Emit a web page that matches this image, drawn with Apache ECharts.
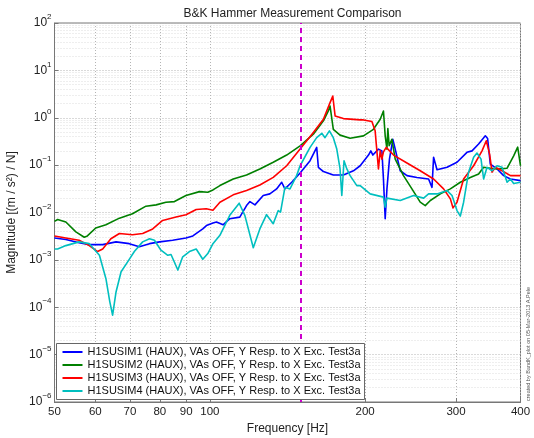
<!DOCTYPE html>
<html>
<head>
<meta charset="utf-8">
<title>B&amp;K Hammer Measurement Comparison</title>
<script src="https://cdn.jsdelivr.net/npm/echarts@6/dist/echarts.min.js"></script>
<style>
  html, body { margin: 0; padding: 0; background: #fff; }
  #chart { width: 534px; height: 438px; }
</style>
</head>
<body>
<div id="chart"></div>
<script>
// legend names and colours (matlab default order)
const seriesNames = [
  'H1SUSIM1 (HAUX), VAs OFF, Y Resp. to X Exc. Test3a',
  'H1SUSIM2 (HAUX), VAs OFF, Y Resp. to X Exc. Test3a',
  'H1SUSIM3 (HAUX), VAs OFF, Y Resp. to X Exc. Test3a',
  'H1SUSIM4 (HAUX), VAs OFF, Y Resp. to X Exc. Test3a'
]
const seriesColors = ['#0000ff', '#008000', '#ff0000', '#00bfbf']

const xTicks = [50, 60, 70, 80, 90, 100, 200, 300, 400]
const yTicks = [1e-6, 1e-5, 1e-4, 1e-3, 1e-2, 1e-1, 1, 10, 100]
const markFreq = 150

// [frequency Hz, magnitude (m/s^2)/N]
const im1 = [
  [50, 0.0029], [52.6, 0.0027], [55.8, 0.0023], [58.4, 0.0021], [62.0, 0.0021], [65.8, 0.0024],
  [69.8, 0.0022], [73.0, 0.0019], [76.4, 0.0022], [79.9, 0.0024], [84.7, 0.0026], [89.9, 0.0029],
  [92.7, 0.0032], [96.9, 0.0045], [98.5, 0.0053], [101.4, 0.0060], [103.0, 0.0063], [106.1, 0.0055],
  [109.3, 0.0074], [114.3, 0.0080], [117.8, 0.0140], [119.6, 0.0170], [122.3, 0.0145], [126.9, 0.0228],
  [130.7, 0.0247], [134.7, 0.0315], [137.8, 0.0435], [139.8, 0.0315], [144.1, 0.0435], [149.6, 0.068],
  [156.4, 0.124], [161.1, 0.237], [162.3, 0.090], [166.0, 0.073], [173.5, 0.062], [181.5, 0.062],
  [189.8, 0.076], [195.6, 0.097], [203.0, 0.163], [205.1, 0.20], [207.0, 0.163], [212.2, 0.218],
  [215.5, 0.20], [217.0, 0.051], [218.7, 0.0074], [220.4, 0.0315], [222.9, 0.134], [226.3, 0.35],
  [228.7, 0.218], [233.9, 0.076], [241.0, 0.060], [252.0, 0.055], [265.4, 0.051], [269.5, 0.034],
  [271.4, 0.146], [275.6, 0.080], [288.2, 0.090], [301.3, 0.115], [315.0, 0.186], [322.2, 0.20],
  [331.8, 0.28], [341.9, 0.415], [345.4, 0.365], [349.6, 0.105], [360.3, 0.083], [371.1, 0.060],
  [382.4, 0.051], [400, 0.047]
]
const im2 = [
  [50, 0.0065], [50.7, 0.0071], [52.6, 0.0063], [55.0, 0.0039], [57.1, 0.0030], [57.9, 0.0032],
  [60.1, 0.0047], [62.9, 0.0055], [66.8, 0.0076], [70.8, 0.0094], [75.2, 0.0136], [78.7, 0.0145],
  [82.2, 0.0165], [85.4, 0.0170], [89.9, 0.0228], [95.5, 0.0276], [99.1, 0.0268], [101.4, 0.030],
  [104.6, 0.037], [111.0, 0.051], [117.8, 0.062], [125.0, 0.083], [132.7, 0.115], [140.9, 0.163],
  [149.6, 0.256], [158.7, 0.45], [166.0, 0.86], [169.7, 1.39], [171.0, 1.77], [173.5, 0.57],
  [178.8, 0.43], [187.0, 0.37], [198.5, 0.415], [207.5, 0.57], [213.9, 0.93], [217.0, 1.39],
  [218.7, 0.415], [220.4, 0.218], [221.3, 0.59], [222.6, 0.256], [225.3, 0.35], [228.7, 0.134],
  [237.3, 0.060], [246.4, 0.0315], [255.7, 0.0165], [261.5, 0.0140], [267.5, 0.0179], [279.7, 0.0247],
  [292.5, 0.0315], [305.8, 0.0435], [319.7, 0.055], [331.8, 0.065], [339.3, 0.090], [349.6, 0.086],
  [360.3, 0.083], [376.8, 0.086], [388, 0.157], [395, 0.24], [400, 0.097]
]
const im3 = [
  [50, 0.0032], [52.6, 0.0029], [55.8, 0.0026], [58.4, 0.0020], [60.6, 0.0015], [62.0, 0.0017],
  [64.3, 0.0028], [66.8, 0.0036], [70.8, 0.0034], [74.1, 0.0036], [77.5, 0.0045], [81.0, 0.0068],
  [86.0, 0.0080], [89.9, 0.0090], [94.1, 0.0116], [98.4, 0.0120], [101.4, 0.0112], [104.6, 0.0165],
  [111.0, 0.0236], [117.8, 0.029], [125.0, 0.038], [132.7, 0.055], [140.9, 0.097], [149.6, 0.218],
  [158.7, 0.49], [166.0, 0.93], [171.0, 2.09], [173.1, 2.87], [174.9, 1.09], [181.5, 0.96],
  [195.6, 0.90], [198.5, 0.90], [206.1, 0.83], [209.1, 0.53], [212.2, 0.083], [213.9, 0.20],
  [215.5, 0.134], [217.0, 0.19], [219.7, 0.237], [227.0, 0.163], [241.0, 0.111], [255.7, 0.076],
  [271.4, 0.051], [283.8, 0.0315], [292.5, 0.0194], [296.0, 0.0125], [301.3, 0.0165], [310.3, 0.051],
  [324.5, 0.097], [336.9, 0.20], [343.4, 0.326], [348.5, 0.171], [352.3, 0.071], [357.5, 0.090],
  [368.4, 0.076], [382.4, 0.060], [400, 0.060]
]
const im4 = [
  [50, 0.0017], [50.7, 0.0017], [52.6, 0.0020], [55.8, 0.0024], [58.4, 0.0022], [61.1, 0.00125],
  [62.9, 0.00040], [64.0, 0.00013], [64.8, 0.000068], [65.8, 0.00021], [67.3, 0.00056], [69.3, 0.00091],
  [71.4, 0.0015], [74.1, 0.0024], [76.4, 0.0028], [78.1, 0.0026], [80.4, 0.0016], [82.9, 0.00125],
  [84.1, 0.0013], [86.7, 0.00061], [88.6, 0.00116], [91.3, 0.0015], [94.1, 0.0017], [96.9, 0.00103],
  [99.1, 0.00136], [101.4, 0.0022], [104.6, 0.0033], [109.3, 0.0087], [114.0, 0.0157], [116.9, 0.0087],
  [121.4, 0.0018], [125.0, 0.0045], [128.8, 0.0090], [132.7, 0.0058], [135.7, 0.0110], [137.1, 0.0102],
  [139.8, 0.034], [143.0, 0.0315], [147.3, 0.060], [149.6, 0.097], [156.4, 0.237], [161.1, 0.38],
  [164.8, 0.47], [167.2, 0.38], [170.5, 0.53], [173.5, 0.38], [176.2, 0.218], [178.8, 0.083],
  [180.2, 0.0228], [182.0, 0.124], [184.3, 0.083], [187.0, 0.060], [192.7, 0.037], [195.6, 0.037],
  [204.5, 0.0247], [217.0, 0.0211], [218.7, 0.0130], [220.4, 0.0201], [233.9, 0.0179], [248.2, 0.0228],
  [259.6, 0.0201], [265.4, 0.0247], [275.6, 0.0247], [288.2, 0.029], [294.7, 0.0228], [301.3, 0.0110],
  [305.8, 0.0084], [310.3, 0.0165], [317.3, 0.071], [324.5, 0.146], [329.4, 0.18], [335.4, 0.134],
  [339.3, 0.051], [344.5, 0.090], [352.3, 0.076], [360.3, 0.097], [368.4, 0.090], [376.8, 0.0435],
  [382.4, 0.051], [388, 0.041], [400, 0.0435]
]
const seriesData = [im1, im2, im3, im4]

// 2..9 x each decade for the light minor grid
const minorY = []
for (let d = -6; d < 2; d++) {
  for (let k = 2; k <= 9; k++) minorY.push(+(k * Math.pow(10, d)).toPrecision(3))
}

const font = '"Liberation Sans", Arial, Helvetica, sans-serif'
const textColor = '#222'
const axisColor = '#777'

const chart = echarts.init(document.getElementById('chart'))

const series = seriesData.map((data, i) => ({
  name: seriesNames[i],
  type: 'line',
  data,
  xAxisIndex: 0,
  yAxisIndex: 0,
  symbol: 'none',
  smooth: false,
  lineStyle: { color: seriesColors[i], width: 1.6, join: 'round' },
  itemStyle: { color: seriesColors[i] },
  z: 2
}))

series[0].markLine = {
  silent: true,
  symbol: ['none', 'none'],
  label: { show: false },
  lineStyle: { color: '#cc00cc', width: 2, type: [5, 4] },
  data: [{ xAxis: markFreq }]
}

chart.setOption({
  animation: false,
  backgroundColor: '#fff',
  textStyle: { fontFamily: font },
  title: {
    text: 'B&K Hammer Measurement Comparison',
    left: 287.5,
    top: 3,
    textAlign: 'center',
    textStyle: { fontSize: 12, fontWeight: 'normal', color: textColor, fontFamily: font }
  },
  grid: {
    left: 54.5,
    right: 13.5,
    top: 23,
    bottom: 36,
    show: true,
    borderColor: axisColor,
    borderWidth: 1,
    backgroundColor: '#fff',
    outerBoundsMode: 'none'
  },
  legend: {
    z: 20,
    orient: 'vertical',
    left: 56.5,
    top: 343.5,
    padding: [2, 4, 2, 6],
    itemGap: 0,
    itemWidth: 20,
    itemHeight: 2,
    icon: 'rect',
    backgroundColor: '#fff',
    borderColor: '#666',
    borderWidth: 1,
    borderRadius: 0,
    data: seriesNames,
    textStyle: { fontSize: 11, lineHeight: 13, color: '#111', fontFamily: font }
  },
  xAxis: {
    type: 'log',
    logBase: 10,
    min: 50,
    max: 400,
    name: 'Frequency [Hz]',
    nameLocation: 'middle',
    nameGap: 18,
    nameTextStyle: { fontSize: 12, color: textColor, fontFamily: font },
    axisLine: { show: true, onZero: false, lineStyle: { color: axisColor } },
    axisTick: { show: true, inside: true, length: 4, customValues: xTicks, lineStyle: { color: axisColor } },
    axisLabel: {
      customValues: xTicks,
      margin: 4,
      fontSize: 11.5,
      color: textColor,
      fontFamily: font,
      formatter: v => String(Math.round(v))
    },
    splitLine: { show: true, lineStyle: { type: [1, 2], color: '#b4b4b4', width: 1 } }
  },
  yAxis: [{
    type: 'log',
    logBase: 10,
    min: 1e-6,
    max: 1e2,
    name: 'Magnitude [(m / s²) / N]',
    nameLocation: 'middle',
    nameGap: 36,
    nameTextStyle: { fontSize: 12, color: textColor, fontFamily: font },
    axisLine: { show: true, lineStyle: { color: axisColor } },
    axisTick: { show: true, inside: true, length: 4, customValues: yTicks, lineStyle: { color: axisColor } },
    axisLabel: {
      customValues: yTicks,
      margin: 3,
      formatter: v => {
        const e = Math.round(Math.log10(v))
        return '{b|10}{s|' + (e < 0 ? '\u2212' + (-e) : e) + '}'
      },
      rich: {
        b: { fontSize: 12, lineHeight: 14, color: textColor, fontFamily: font },
        s: { fontSize: 8, lineHeight: 8, padding: [0, 0, 12, 0], color: textColor, fontFamily: font }
      }
    },
    splitLine: { show: true, lineStyle: { type: [1, 2], color: '#b4b4b4', width: 1 } }
  }, {
    // minor grid only
    type: 'log',
    logBase: 10,
    min: 1e-6,
    max: 1e2,
    gridIndex: 0,
    position: 'left',
    axisLine: { show: false },
    axisLabel: { show: false },
    axisTick: { show: false, customValues: minorY },
    splitLine: { show: true, lineStyle: { type: [1, 2], color: '#dcdcdc', width: 1 } }
  }],
  graphic: [{
    type: 'text',
    x: 528,
    y: 401,
    rotation: Math.PI / 2,
    style: {
      text: 'created by BandK_plot on 05-Mar-2013 A.Pele',
      fontSize: 5.5,
      fontFamily: font,
      fill: '#555',
      align: 'left',
      verticalAlign: 'middle'
    }
  }],
  series
})
</script>
</body>
</html>
